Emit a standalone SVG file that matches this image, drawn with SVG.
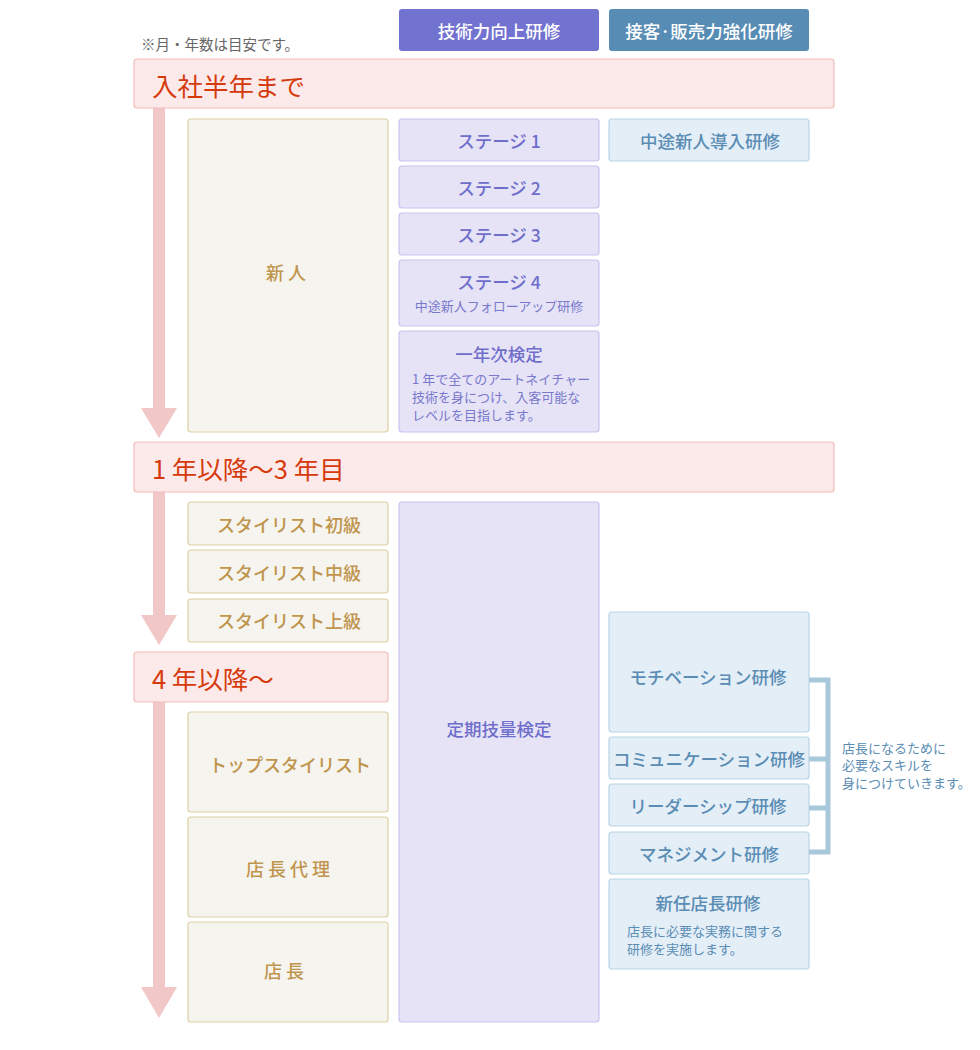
<svg xmlns="http://www.w3.org/2000/svg" width="980" height="1050" viewBox="0 0 980 1050">
<defs>
<style>
text{font-family:"Noto Sans CJK JP","Noto Sans",sans-serif;dominant-baseline:central}
.hdr rect{fill:#fce9e9;stroke:#f0bcbc;stroke-width:1.2}
.hdr text{fill:#d63a0c;font-size:25.5px}
.bg rect{fill:#f6f4ef;stroke:#ddd0a2;stroke-width:1.2}
.bg text{fill:#c0954d;font-size:18px;font-weight:500;text-anchor:middle}
.pu rect{fill:#e6e3f6;stroke:#c7c3ee;stroke-width:1.2}
.pu text{fill:#6f6ecb;font-size:17.5px;font-weight:500;text-anchor:middle}
.pu text.s{fill:#7878cc;font-size:13px;font-weight:400}
.pu text.l{text-anchor:start}
.bl rect{fill:#e3eef7;stroke:#b9d4e7;stroke-width:1.2}
.bl text{fill:#5a8cb4;font-size:17.5px;font-weight:500;text-anchor:middle}
.bl text.s{font-size:13px;font-weight:400;text-anchor:start}
.leg text{fill:#ffffff;font-size:17.5px;font-weight:500;text-anchor:middle}
.arrow{fill:#f2c7c7}
.note{fill:#5a8cb4;font-size:13px}
</style>
</defs>
<rect width="980" height="1050" fill="#ffffff"/>

<text x="141" y="43" font-size="14.5" fill="#666666">※月・年数は目安です。</text>

<g id="legend-tech" class="leg"><rect x="399" y="9" width="200" height="42" rx="3" fill="#7272d0"/><text x="499" y="30">技術力向上研修</text></g>
<g id="legend-service" class="leg"><rect x="609" y="9" width="200" height="42" rx="3" fill="#578db4"/><text x="709" y="30">接客·販売力強化研修</text></g>

<g id="arrows">
<rect class="arrow" x="153" y="108" width="12" height="301"/>
<polygon class="arrow" points="141,408 177,408 159,438"/>
<rect class="arrow" x="153" y="492" width="12" height="124"/>
<polygon class="arrow" points="141,615 177,615 159,645"/>
<rect class="arrow" x="153" y="702" width="12" height="286"/>
<polygon class="arrow" points="141,987 177,987 159,1018"/>
</g>

<g id="hdr1" class="hdr"><rect x="134" y="59" width="700" height="49" rx="3"/><text x="152" y="84">入社半年まで</text></g>
<g id="hdr2" class="hdr"><rect x="134" y="442" width="700" height="50" rx="3"/><text x="152" y="467">1 年以降〜3 年目</text></g>
<g id="hdr3" class="hdr"><rect x="134" y="652" width="254" height="50" rx="3"/><text x="152" y="677">4 年以降〜</text></g>

<g id="shinjin" class="bg"><rect x="188" y="119" width="200" height="313" rx="3"/><text x="288" y="272" letter-spacing="4">新人</text></g>
<g id="stylist1" class="bg"><rect x="188" y="502" width="200" height="43" rx="3"/><text x="289" y="524">スタイリスト初級</text></g>
<g id="stylist2" class="bg"><rect x="188" y="550" width="200" height="43" rx="3"/><text x="289" y="572">スタイリスト中級</text></g>
<g id="stylist3" class="bg"><rect x="188" y="599" width="200" height="43" rx="3"/><text x="289" y="620">スタイリスト上級</text></g>
<g id="top" class="bg"><rect x="188" y="712" width="200" height="100" rx="3"/><text x="290" y="764">トップスタイリスト</text></g>
<g id="fukutencho" class="bg"><rect x="188" y="817" width="200" height="100" rx="3"/><text x="290" y="868" letter-spacing="4">店長代理</text></g>
<g id="tencho" class="bg"><rect x="188" y="922" width="200" height="100" rx="3"/><text x="286" y="970" letter-spacing="4">店長</text></g>

<g id="stage1" class="pu"><rect x="399" y="119" width="200" height="42" rx="3"/><text x="499" y="140">ステージ 1</text></g>
<g id="stage2" class="pu"><rect x="399" y="166" width="200" height="42" rx="3"/><text x="499" y="187">ステージ 2</text></g>
<g id="stage3" class="pu"><rect x="399" y="213" width="200" height="42" rx="3"/><text x="499" y="234">ステージ 3</text></g>
<g id="stage4" class="pu"><rect x="399" y="260" width="200" height="66" rx="3"/><text x="499" y="281">ステージ 4</text><text class="s" x="499" y="305">中途新人フォローアップ研修</text></g>
<g id="ichinenji" class="pu"><rect x="399" y="331" width="200" height="101" rx="3"/><text x="499" y="353">一年次検定</text><text class="s l" x="412" y="378">1 年で全てのアートネイチャー</text><text class="s l" x="412" y="396">技術を身につけ、入客可能な</text><text class="s l" x="412" y="414">レベルを目指します。</text></g>
<g id="teiki" class="pu"><rect x="399" y="502" width="200" height="520" rx="3"/><text x="499" y="728">定期技量検定</text></g>

<g id="chuto" class="bl"><rect x="609" y="119" width="200" height="42" rx="3"/><text x="710" y="140">中途新人導入研修</text></g>
<g id="motivation" class="bl"><rect x="609" y="612" width="200" height="120" rx="3"/><text x="708" y="676">モチベーション研修</text></g>
<g id="communication" class="bl"><rect x="609" y="737" width="200" height="42" rx="3"/><text x="709" y="758">コミュニケーション研修</text></g>
<g id="leadership" class="bl"><rect x="609" y="784" width="200" height="42" rx="3"/><text x="708" y="805">リーダーシップ研修</text></g>
<g id="management" class="bl"><rect x="609" y="832" width="200" height="42" rx="3"/><text x="709" y="853">マネジメント研修</text></g>
<g id="shinnin" class="bl"><rect x="609" y="879" width="200" height="90" rx="3"/><text x="708" y="902">新任店長研修</text><text class="s" x="627" y="930">店長に必要な実務に関する</text><text class="s" x="627" y="948">研修を実施します。</text></g>

<g id="connectors" fill="none" stroke="#a9c8dc" stroke-width="5">
<path d="M809,680 H828 V852 H809"/>
<path d="M809,759 H828"/>
<path d="M809,808 H828"/>
</g>

<g id="note">
<text class="note" x="842" y="747">店長になるために</text>
<text class="note" x="842" y="764">必要なスキルを</text>
<text class="note" x="842" y="782">身につけていきます。</text>
</g>
</svg>
